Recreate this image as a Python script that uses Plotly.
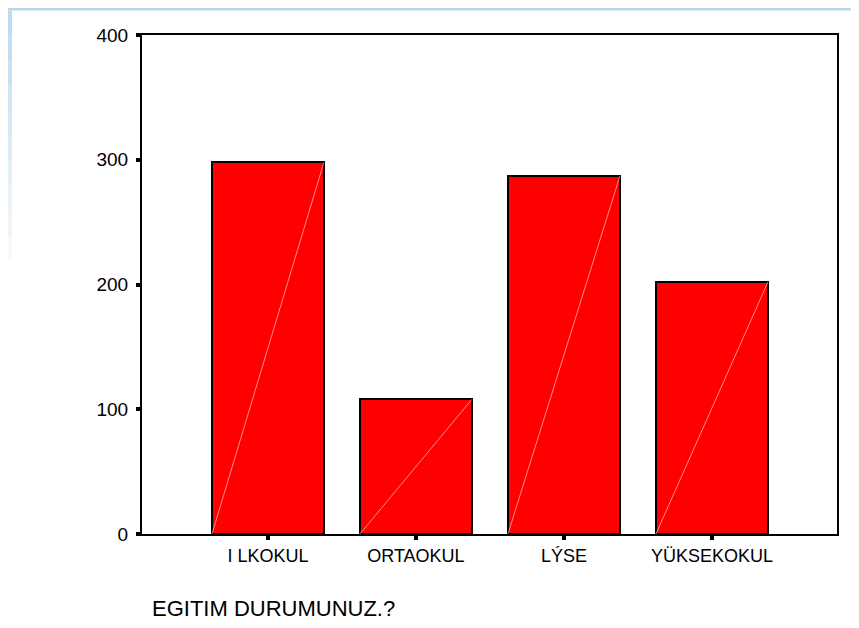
import plotly.graph_objects as go

# education level counts
categories = ["I LKOKUL", "ORTAOKUL", "LÝSE", "YÜKSEKOKUL"]
counts = [298, 108, 287, 202]
y_ticks = [0, 100, 200, 300, 400]
x_title = "EGITIM DURUMUNUZ.?"

bar_w = 0.757
xs = list(range(len(categories)))

# page body has an 8px margin, so the figure is a bit smaller than the window
W, H = 851, 620
L, R, T, B = 134, 22, 27, 94
pw, ph = W - L - R, H - T - B

fig = go.Figure()

fig.add_trace(go.Bar(
    x=xs,
    y=counts,
    width=bar_w,
    marker=dict(color="#ff0000", line=dict(color="black", width=2)),
    hoverinfo="x+y",
))

# faint diagonal seam across each bar, like the old SPSS render
for x, v in zip(xs, counts):
    fig.add_trace(go.Scatter(
        x=[x - bar_w / 2, x + bar_w / 2],
        y=[0, v],
        mode="lines",
        line=dict(color="rgba(255,255,255,0.55)", width=1),
        hoverinfo="skip",
    ))

# light blue page decoration: top strip and fading left edge
shapes = [dict(type="rect", xref="paper", yref="paper",
               x0=-L / pw, x1=(W - L) / pw, y0=(ph + T - 2.5) / ph, y1=(ph + T) / ph,
               fillcolor="#b8d6ec", line=dict(width=0), layer="below")]
for i in range(10):
    top = 2.5 + i * 25
    shapes.append(dict(type="rect", xref="paper", yref="paper",
                       x0=-L / pw, x1=(4 - L) / pw,
                       y0=(ph + T - top - 25) / ph, y1=(ph + T - top) / ph,
                       fillcolor="rgba(170,205,230,%.2f)" % (0.75 - i * 0.07),
                       line=dict(width=0), layer="below"))

fig.update_layout(
    width=W,
    height=H,
    margin=dict(l=L, r=R, t=T, b=B),
    paper_bgcolor="white",
    plot_bgcolor="white",
    showlegend=False,
    bargap=0,
    font=dict(family="Liberation Sans, Arial, sans-serif", color="black"),
    shapes=shapes,
    xaxis=dict(
        range=[-0.851, 3.845],
        tickvals=xs,
        ticktext=categories,
        ticks="outside",
        ticklen=4,
        tickwidth=4,
        tickcolor="black",
        tickfont=dict(size=18),
        showline=True,
        mirror=True,
        linecolor="black",
        linewidth=2,
        showgrid=False,
        zeroline=False,
    ),
    yaxis=dict(
        range=[0, 400],
        tickvals=y_ticks,
        ticks="outside",
        ticklen=4,
        tickwidth=4,
        tickcolor="black",
        tickfont=dict(size=19),
        ticklabelstandoff=4,
        showline=True,
        mirror=True,
        linecolor="black",
        linewidth=2,
        showgrid=False,
        zeroline=False,
    ),
    annotations=[dict(
        text=x_title,
        xref="paper", yref="paper",
        x=8 / pw, y=-74 / ph,
        xanchor="left", yanchor="middle",
        showarrow=False,
        font=dict(size=22),
    )],
)

fig.write_html("out.html")
